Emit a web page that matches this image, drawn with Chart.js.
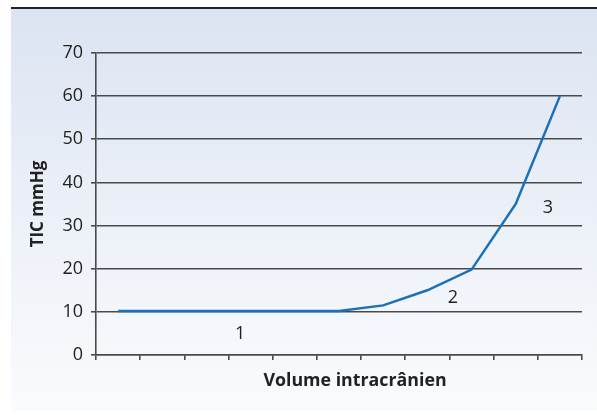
<!DOCTYPE html>
<html lang="fr">
<head>
<meta charset="UTF-8">
<title>TIC / Volume intracrânien</title>
<script src="https://cdn.jsdelivr.net/npm/chart.js"></script>
<style>
  html, body { margin: 0; padding: 0; background: #fff; }
  #wrap { width: 597px; height: 415px; position: relative; }
</style>
</head>
<body>
<div id="wrap"><canvas id="ticChart" width="597" height="415"></canvas></div>
<script>
  // volume steps (unlabeled on the original)
  const volumeSteps = ['', '', '', '', '', '', '', '', '', '', ''];
  // pressure in mmHg
  const ticValues = [10.2, 10.2, 10.2, 10.2, 10.2, 10.2, 11.5, 15, 19.8, 35, 60];
  // phase numbers written on the plot (x in category index, y in mmHg)
  const phaseLabels = ['1', '2', '3'];
  const phaseX = [2.76, 7.58, 9.73];
  const phaseY = [4.9, 13.2, 34];

  const yTitle = 'TIC mmHg';
  const xTitle = 'Volume intracrânien';

  const panelBg = {
    id: 'panelBg',
    beforeDraw(chart) {
      const ctx = chart.ctx;
      const g = ctx.createLinearGradient(0, 8, 0, 411);
      g.addColorStop(0, '#dce4f2');
      g.addColorStop(1, '#fafbfd');
      ctx.save();
      ctx.fillStyle = g;
      ctx.fillRect(11, 8, chart.width - 11, 403);
      ctx.fillStyle = '#222';
      ctx.fillRect(11, 7, chart.width - 11, 2);
      ctx.restore();
    }
  };

  const phaseText = {
    id: 'phaseText',
    afterDraw(chart) {
      const ctx = chart.ctx;
      const xs = chart.scales.x, ys = chart.scales.y;
      ctx.save();
      ctx.fillStyle = '#222';
      ctx.font = '18px "Open Sans", sans-serif';
      ctx.textAlign = 'center';
      ctx.textBaseline = 'middle';
      phaseLabels.forEach((t, i) => {
        ctx.fillText(t, xs.getPixelForValue(phaseX[i]), ys.getPixelForValue(phaseY[i]));
      });
      // x axis title, a bit right of the plot centre like the original
      ctx.font = 'bold 17.8px "Open Sans", sans-serif';
      ctx.fillText(xTitle, 355, 381);
      ctx.restore();
    }
  };

  new Chart(document.getElementById('ticChart'), {
    type: 'line',
    data: {
      labels: volumeSteps,
      datasets: [{
        data: ticValues,
        borderColor: '#1a70b9',
        borderWidth: 2.5,
        pointRadius: 0,
        tension: 0,
        fill: false
      }]
    },
    options: {
      responsive: false,
      animation: false,
      layout: { padding: { top: 53, right: 15, left: 0, bottom: 0 } },
      plugins: { legend: { display: false }, tooltip: { enabled: false } },
      scales: {
        x: {
          offset: true,
          afterFit(scale) { scale.height = 60; },
          grid: { drawOnChartArea: false, drawTicks: true, tickLength: 5, offset: true, color: '#4a4a4a', lineWidth: 1.6 },
          border: { display: true, color: '#4a4a4a', width: 1.6 },
          ticks: { display: false }
        },
        y: {
          min: 0,
          max: 70,
          afterFit(scale) { scale.width = 96; },
          ticks: {
            stepSize: 10,
            padding: 8,
            color: '#222',
            font: { family: '"Open Sans", sans-serif', size: 18 }
          },
          grid: { color: '#4a4a4a', lineWidth: 1.6, tickLength: 5 },
          border: { display: true, color: '#4a4a4a', width: 1.6 },
          title: {
            display: true,
            text: yTitle,
            color: '#222',
            padding: { top: 28, bottom: 0 },
            font: { family: '"Open Sans", sans-serif', size: 17, weight: 'bold' }
          }
        }
      }
    },
    plugins: [panelBg, phaseText]
  });
</script>
</body>
</html>
